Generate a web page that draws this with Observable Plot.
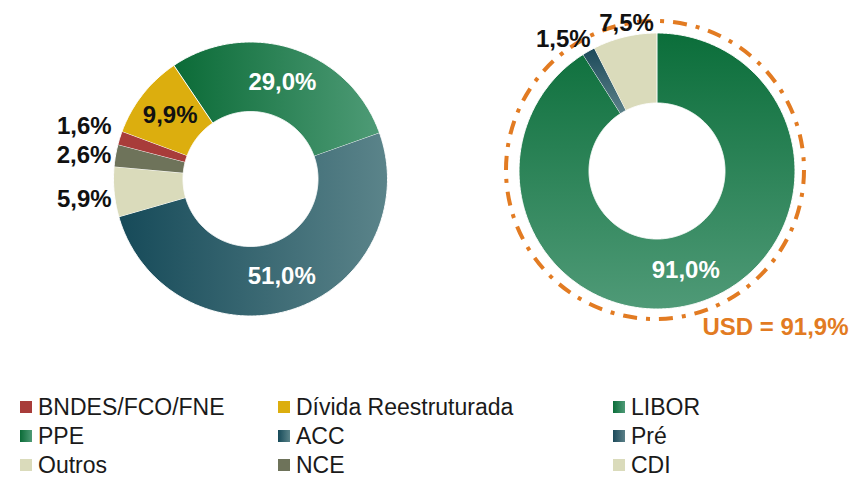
<!DOCTYPE html>
<html>
<head>
<meta charset="utf-8">
<script src="https://cdn.jsdelivr.net/npm/d3@7"></script>
<script src="https://cdn.jsdelivr.net/npm/@observablehq/plot@0.6"></script>
<style>
  html, body { margin: 0; padding: 0; background: #fff; }
  body { width: 851px; height: 479px; position: relative; overflow: hidden; font-family: "Liberation Sans", Arial, sans-serif; }
  #legend { position: absolute; left: 0; top: 380px; width: 851px; height: 99px; }
  .item { position: absolute; height: 16px; line-height: 16px; font-size: 23px; color: #1a1a1a; white-space: nowrap; }
  .sw { position: absolute; width: 12px; height: 12px; top: 2px; }
  .lbl { position: absolute; top: 0; }
</style>
</head>
<body>
<div id="chart"></div>
<div id="legend"></div>
<script>
// ---------- DATA ----------
const leftCategories = ["PPE", "ACC", "Outros", "NCE", "BNDES/FCO/FNE", "Dívida Reestruturada"];
const leftValues = [29.0, 51.0, 5.9, 2.6, 1.6, 9.9];
const rightCategories = ["LIBOR", "Pré", "CDI"];
const rightValues = [91.0, 1.5, 7.5];
const usdLabel = "USD";
const usdShare = 91.9;
const legendRows = [
  ["BNDES/FCO/FNE", "Dívida Reestruturada", "LIBOR"],
  ["PPE", "ACC", "Pré"],
  ["Outros", "NCE", "CDI"]
];

// ---------- STYLE / LAYOUT ----------
const W = 851, H = 380;
const fills = {
  "PPE": "url(#gPPE)",
  "ACC": "url(#gACC)",
  "Outros": "#DADBBB",
  "NCE": "#6E735A",
  "BNDES/FCO/FNE": "#A83C3A",
  "Dívida Reestruturada": "#DCAE0E",
  "LIBOR": "url(#gLIBOR)",
  "Pré": "url(#gPre)",
  "CDI": "#DADBBB"
};
const swatchCss = {
  "PPE": "linear-gradient(90deg,#0b6b37,#4e9b76)",
  "ACC": "linear-gradient(90deg,#164a59,#5b848a)",
  "LIBOR": "linear-gradient(90deg,#0b6e3a,#4f9a77)",
  "Pré": "linear-gradient(90deg,#1c4a5a,#5b8088)"
};
const left = {cx: 250, cy: 178.5, ri: 67.5, ro: 137, start: -34 * Math.PI / 180};
const right = {cx: 656.5, cy: 170.5, ri: 68, ro: 138, start: 0};
const insideLabels = ["PPE", "ACC", "Dívida Reestruturada", "LIBOR"];
const whiteLabels = ["PPE", "ACC", "LIBOR"];
const labelNudge = {"BNDES/FCO/FNE": [-6, -7], "NCE": [-1, 2], "Outros": [1, 6], "Pré": [-10, 0], "CDI": [9, 0]};
const fmt = v => v.toFixed(1).replace(".", ",") + "%";

function buildDonut(cats, vals, g) {
  const pie = d3.pie().sort(null).value(d => d.value).startAngle(g.start).endAngle(g.start + 2 * Math.PI);
  const arcs = pie(cats.map((c, i) => ({category: c, value: vals[i]})));
  const pts = [], labels = [];
  for (const a of arcs) {
    const n = Math.max(2, Math.ceil((a.endAngle - a.startAngle) / 0.01));
    for (let k = 0; k <= n; k++) {
      const t = a.startAngle + (a.endAngle - a.startAngle) * k / n;
      pts.push({category: a.data.category, x: g.cx + g.ro * Math.sin(t), y: g.cy - g.ro * Math.cos(t)});
    }
    for (let k = n; k >= 0; k--) {
      const t = a.startAngle + (a.endAngle - a.startAngle) * k / n;
      pts.push({category: a.data.category, x: g.cx + g.ri * Math.sin(t), y: g.cy - g.ri * Math.cos(t)});
    }
    const m = (a.startAngle + a.endAngle) / 2;
    const s = Math.sin(m), c = Math.cos(m);
    let x, y;
    if (insideLabels.includes(a.data.category)) {
      const r = (g.ri + g.ro) / 2;
      x = g.cx + r * s; y = g.cy - r * c;
    } else {
      const r = g.ro + 4, w = 54, h = 20;
      x = g.cx + r * s + (w / 2) * s;
      y = g.cy - r * c - (h / 2) * c;
      const nd = labelNudge[a.data.category] || [0, 0];
      x += nd[0]; y += nd[1];
    }
    labels.push({category: a.data.category, text: fmt(a.data.value), x, y,
      color: whiteLabels.includes(a.data.category) ? "white" : "#111"});
  }
  return {pts, labels};
}

const L = buildDonut(leftCategories, leftValues, left);
const R = buildDonut(rightCategories, rightValues, right);
const slices = [...L.pts, ...R.pts].map(d => ({...d, fill: fills[d.category]}));
const labels = [...L.labels, ...R.labels];

const defsMark = () => {
  const g = document.createElementNS("http://www.w3.org/2000/svg", "g");
  g.innerHTML = `<defs>
    <linearGradient id="gPPE" x1="0" y1="0" x2="1" y2="0"><stop offset="0" stop-color="#0b6b37"/><stop offset="1" stop-color="#4e9b76"/></linearGradient>
    <linearGradient id="gACC" x1="0" y1="0" x2="1" y2="0"><stop offset="0" stop-color="#164a59"/><stop offset="1" stop-color="#5b848a"/></linearGradient>
    <linearGradient id="gLIBOR" x1="0" y1="0" x2="0" y2="1"><stop offset="0" stop-color="#0b6e3a"/><stop offset="1" stop-color="#4f9a77"/></linearGradient>
    <linearGradient id="gPre" x1="0" y1="0" x2="0" y2="1"><stop offset="0" stop-color="#1c4a5a"/><stop offset="1" stop-color="#5b8088"/></linearGradient>
  </defs>`;
  return g;
};

const chart = Plot.plot({
  width: W, height: H,
  margin: 0,
  x: {domain: [0, W], axis: null},
  y: {domain: [0, H], reverse: true, axis: null},
  color: {type: "identity"},
  style: {background: "white", fontFamily: "Liberation Sans, Arial, sans-serif", overflow: "visible"},
  marks: [
    defsMark,
    Plot.line(slices, {x: "x", y: "y", z: "category", fill: "fill", stroke: "white", strokeWidth: 1, strokeLinejoin: "round"}),
    Plot.dot([usdShare], {x: () => right.cx - 2, y: () => right.cy - 1, r: 149, fill: "none", stroke: "#E27B22", strokeWidth: 4, strokeDasharray: "14,9,4,9", strokeLinecap: "butt"}),
    Plot.text(labels, {x: "x", y: "y", text: "text", fill: "color", fontSize: 24, fontWeight: "bold"}),
    Plot.text([usdShare], {x: () => W - 3, y: () => 327, text: d => `${usdLabel} = ${fmt(d)}`, textAnchor: "end", fill: "#E27B22", fontSize: 24, fontWeight: "bold"})
  ]
});
document.getElementById("chart").appendChild(chart);

// ---------- LEGEND ----------
const colX = [20, 278, 613];
const rowY = [407, 436, 465];
const legend = document.getElementById("legend");
legendRows.forEach((row, ri) => row.forEach((cat, ci) => {
  const it = document.createElement("div");
  it.className = "item";
  it.style.left = colX[ci] + "px";
  it.style.top = (rowY[ri] - 380 - 8) + "px";
  const sw = document.createElement("span");
  sw.className = "sw";
  sw.style.left = "0px";
  sw.style.background = swatchCss[cat] || fills[cat];
  const tx = document.createElement("span");
  tx.className = "lbl";
  tx.style.left = "18px";
  tx.textContent = cat;
  it.appendChild(sw); it.appendChild(tx);
  legend.appendChild(it);
}));
</script>
</body>
</html>
